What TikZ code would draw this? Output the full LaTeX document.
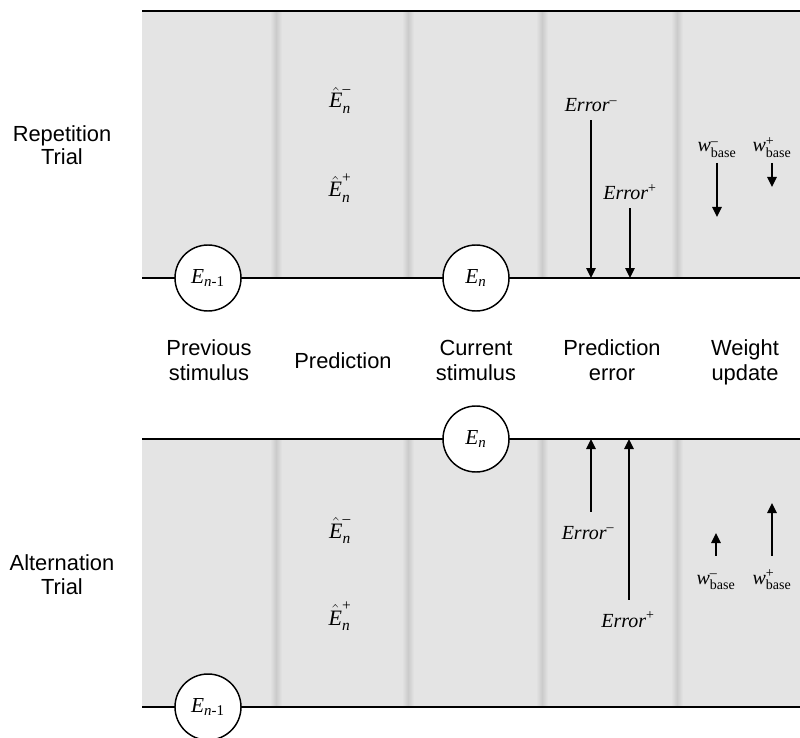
\documentclass[tikz,border=0pt]{standalone}
\usepackage{amsmath}
\usepackage{fontspec}
\setmainfont{Liberation Serif}
\setsansfont{Liberation Sans}
\usetikzlibrary{arrows.meta}

\definecolor{panelgray}{HTML}{E4E4E4}
\definecolor{stripegray}{HTML}{CBCBCB}

% italic letters set in the text font
\newcommand{\iv}[1]{\textit{#1}}
\newcommand{\Ehat}[1]{$\hat{\iv{E}}_{\iv{n}}^{\text{#1}}$}
\newcommand{\wbase}[1]{$\iv{w}_{\text{base}}^{\text{#1}}$}
\newcommand{\errlab}[1]{$\iv{Error}^{\text{#1}}$}

\begin{document}
\begin{tikzpicture}[x=0.75pt,y=-0.75pt,
  rule/.style={line width=1.5pt},
  state/.style={circle, draw, fill=white, line width=1.1pt, minimum size=49.5pt,
    inner sep=0pt, font=\fontsize{16}{18}\selectfont},
  sym/.style={anchor=base, inner sep=2pt, text height=10pt, text depth=4pt,
    font=\fontsize{15}{17}\selectfont},
  pred/.style={sym, font=\fontsize{16.5}{18}\selectfont},
  lab/.style={anchor=base, align=center, inner sep=0pt,
    font=\sffamily\fontsize{16.4}{18.5}\selectfont}, % base = last line
  arr/.style={line width=1.2pt, -{Triangle[length=7.5pt,width=7pt]}}
]
\useasboundingbox (0,0) rectangle (800,738);

% ---- background panels with column separators ----
\foreach \top/\bot in {11/278, 439/707}{
  \fill[panelgray] (142,\top) rectangle (800,\bot);
  \foreach \sx in {276,408,542,677}{
    \shade[left color=panelgray, right color=stripegray] (\sx-6,\top) rectangle (\sx,\bot);
    \shade[left color=stripegray, right color=panelgray] (\sx,\top) rectangle (\sx+6,\bot);
  }
}

% ---- horizontal time lines ----
\coordinate (tT0) at (142,11);   \coordinate (tT1) at (800,11);
\coordinate (bT0) at (142,278);  \coordinate (bT1) at (800,278);
\coordinate (tB0) at (142,439);  \coordinate (tB1) at (800,439);
\coordinate (bB0) at (142,707);  \coordinate (bB1) at (800,707);
\draw[rule] (tT0) -- (tT1);
\draw[rule] (bT0) -- (bT1);
\draw[rule] (tB0) -- (tB1);
\draw[rule] (bB0) -- (bB1);

% ---- stimulus circles ----
\node[state] (prevT) at (208,278) {$\iv{E}_{\iv{n}\text{-1}}$};
\node[state] (curT)  at (476,278) {$\iv{E}_{\iv{n}}$};
\node[state] (curB)  at (476,439) {$\iv{E}_{\iv{n}}$};
\node[state] (prevB) at (208,707) {$\iv{E}_{\iv{n}\text{-1}}$};

% ---- row labels ----
\node[lab, font=\sffamily\fontsize{16.4}{17.5}\selectfont] (rep) at (62,165) {Repetition\\Trial};
\node[lab, font=\sffamily\fontsize{16.4}{17.5}\selectfont] (alt) at (62,594) {Alternation\\Trial};

% ---- column labels ----
\node[lab] (c1) at (209,380) {Previous\\stimulus};
\node[lab] (c2) at (343,368) {Prediction};
\node[lab] (c3) at (476,380) {Current\\stimulus};
\node[lab] (c4) at (612,380) {Prediction\\error};
\node[lab] (c5) at (745,380) {Weight\\update};

% ---- repetition trial ----
\node[pred] (pmT) at (340,108) {\Ehat{--}};
\node[pred] (ppT) at (340,197) {\Ehat{+}};

\node[sym] (emT) at (591,112) {\errlab{--}};
\node[sym] (epT) at (630,200) {\errlab{+}};
\coordinate (emTend) at (591,278);
\coordinate (epTend) at (630,278);
\draw[arr] (emT.south) -- (emTend);
\draw[arr] (epT.south) -- (epTend);

\node[sym] (wmT) at (717,152) {\wbase{--}};
\node[sym] (wpT) at (772,152) {\wbase{+}};
\coordinate (wmTend) at (717,217);
\coordinate (wpTend) at (772,187);
\draw[arr, shorten <=2pt] (wmT.south) -- (wmTend);
\draw[arr, shorten <=2pt] (wpT.south) -- (wpTend);

% ---- alternation trial ----
\node[pred] (pmB) at (340,538) {\Ehat{--}};
\node[pred] (ppB) at (340,625) {\Ehat{+}};

\node[sym] (emB) at (588,539) {\errlab{--}};
\node[sym] (epB) at (628,627) {\errlab{+}};
\coordinate (emBend) at (591,439);
\coordinate (epBend) at (629,439);
\draw[arr, shorten <=8.25pt] (emB.north -| emBend) -- (emBend);
\draw[arr, shorten <=8.25pt] (epB.north -| epBend) -- (epBend);

\node[sym] (wmB) at (716,584) {\wbase{--}};
\node[sym] (wpB) at (772,584) {\wbase{+}};
\coordinate (wmBend) at (716,533);
\coordinate (wpBend) at (772,503);
\draw[arr, shorten <=9pt] (wmB.north) -- (wmBend);
\draw[arr, shorten <=9pt] (wpB.north) -- (wpBend);
\end{tikzpicture}
\end{document}
